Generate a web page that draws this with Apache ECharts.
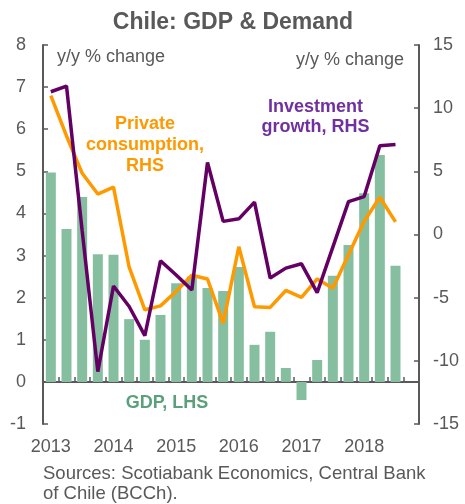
<!DOCTYPE html>
<html>
<head>
<meta charset="utf-8">
<script src="https://cdn.jsdelivr.net/npm/echarts@6/dist/echarts.min.js"></script>
<style>
html,body{margin:0;padding:0;background:#fff;}
#chart{width:465px;height:504px;}
</style>
</head>
<body>
<div id="chart"></div>
<script>
var quarters = ['2013','2013Q2','2013Q3','2013Q4','2014','2014Q2','2014Q3','2014Q4',
  '2015','2015Q2','2015Q3','2015Q4','2016','2016Q2','2016Q3','2016Q4',
  '2017','2017Q2','2017Q3','2017Q4','2018','2018Q2','2018Q3','2018Q4'];
var yearTicks = ['2013','2014','2015','2016','2017','2018'];
var gdp = [4.97, 3.63, 4.39, 3.03, 3.02, 1.49, 1.0, 1.59, 2.34, 2.5, 2.23, 2.16,
  2.73, 0.88, 1.19, 0.33, -0.43, 0.52, 2.52, 3.25, 4.48, 5.39, 2.76, null];
var consumption = [11.0, 7.8, 4.85, 3.2, 3.75, -2.59, -5.96, -5.65, -4.5, -3.22, -3.52, -7.04,
  -0.97, -5.72, -5.77, -4.43, -4.98, -3.52, -4.25, -1.6, 1.05, 2.95, 1.0, null];
var investment = [11.3, 11.75, 0.3, -10.85, -4.08, -5.7, -8.0, -2.08, -3.2, -4.4, 5.7, 1.04,
  1.24, 2.56, -3.45, -2.66, -2.32, -4.6, -1.0, 2.6, 3.0, 7.03, 7.13, null];

var FONT = 'Liberation Sans, Arial, sans-serif';
var GRAY = '#595959';
var chart = echarts.init(document.getElementById('chart'), null, {renderer: 'canvas'});
chart.setOption({
  animation: false,
  backgroundColor: '#fff',
  textStyle: {fontFamily: FONT},
  grid: {left: 43, right: 46, top: 45, bottom: 80, containLabel: false},
  xAxis: {
    type: 'category',
    data: quarters,
    boundaryGap: true,
    axisLine: {show: true, onZero: true, onZeroAxisIndex: 0, lineStyle: {color: GRAY, width: 2}},
    axisTick: {show: true, inside: true, length: 5, interval: 0, lineStyle: {color: GRAY, width: 1.5}},
    axisLabel: {
      interval: 0, margin: 14, fontSize: 18, color: GRAY, fontFamily: FONT,
      formatter: function (v) { return yearTicks.indexOf(v) >= 0 ? v : ''; }
    },
    splitLine: {show: false}
  },
  yAxis: [{
    type: 'value', min: -1, max: 8, interval: 1, position: 'left',
    axisLine: {show: true, lineStyle: {color: GRAY, width: 2}},
    axisTick: {show: true, inside: true, length: 5, lineStyle: {color: GRAY, width: 1.5}},
    axisLabel: {margin: 17, fontSize: 18, color: GRAY, fontFamily: FONT},
    splitLine: {show: false}
  }, {
    type: 'value', min: -15, max: 15, interval: 5, position: 'right',
    axisLine: {show: true, lineStyle: {color: GRAY, width: 2}},
    axisTick: {show: true, inside: true, length: 5, lineStyle: {color: GRAY, width: 1.5}},
    axisLabel: {margin: 14, fontSize: 18, color: GRAY, fontFamily: FONT},
    splitLine: {show: false}
  }],
  series: [{
    name: 'GDP', type: 'bar', yAxisIndex: 0, data: gdp, barWidth: 10,
    itemStyle: {color: '#86BFA0'}
  }, {
    name: 'Private consumption', type: 'line', yAxisIndex: 1, data: consumption,
    symbol: 'none', lineStyle: {color: '#FF9900', width: 3.5}, itemStyle: {color: '#FF9900'}
  }, {
    name: 'Investment growth', type: 'line', yAxisIndex: 1, data: investment,
    symbol: 'none', lineStyle: {color: '#640064', width: 3.5}, itemStyle: {color: '#640064'}
  }],
  graphic: [{
    type: 'text', x: 233, y: 23,
    style: {text: 'Chile: GDP & Demand', font: 'bold 23px ' + FONT, fill: GRAY, textAlign: 'center', textVerticalAlign: 'middle'}
  }, {
    type: 'text', x: 57, y: 57,
    style: {text: 'y/y % change', font: '18px ' + FONT, fill: GRAY, textAlign: 'left', textVerticalAlign: 'middle'}
  }, {
    type: 'text', x: 404, y: 60,
    style: {text: 'y/y % change', font: '18px ' + FONT, fill: GRAY, textAlign: 'right', textVerticalAlign: 'middle'}
  }, {
    type: 'text', x: 145, y: 145,
    style: {text: 'Private\nconsumption,\nRHS', font: 'bold 18px ' + FONT, lineHeight: 21, fill: '#FF9900', textAlign: 'center', textVerticalAlign: 'middle'}
  }, {
    type: 'text', x: 315.5, y: 117,
    style: {text: 'Investment\ngrowth, RHS', font: 'bold 18px ' + FONT, lineHeight: 20, fill: '#7030A0', textAlign: 'center', textVerticalAlign: 'middle'}
  }, {
    type: 'text', x: 167, y: 403.5,
    style: {text: 'GDP, LHS', font: 'bold 18px ' + FONT, fill: '#5BA07A', textAlign: 'center', textVerticalAlign: 'middle'}
  }, {
    type: 'text', x: 43, y: 484,
    style: {text: 'Sources: Scotiabank Economics, Central Bank\nof Chile (BCCh).', font: '18.5px ' + FONT, lineHeight: 19.5, fill: GRAY, textAlign: 'left', textVerticalAlign: 'middle'}
  }]
});
</script>
</body>
</html>
